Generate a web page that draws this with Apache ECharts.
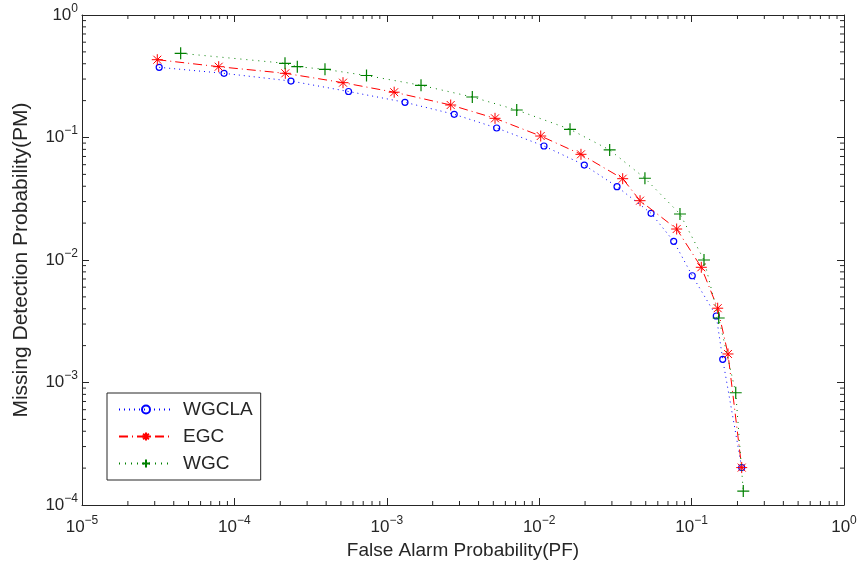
<!DOCTYPE html>
<html>
<head>
<meta charset="utf-8">
<script src="https://cdn.jsdelivr.net/npm/echarts@6/dist/echarts.min.js"></script>
<style>html,body{margin:0;padding:0;background:#fff;}#c{width:860px;height:568px;}</style>
</head>
<body>
<div id="c"></div>
<script>
// ---- data ----
const wgclaPF = [3.21e-5, 8.55e-5, 2.35e-4, 5.61e-4, 1.316e-3, 2.77e-3, 5.26e-3, 0.01075, 0.01977, 0.0324, 0.0542, 0.0763, 0.101, 0.1452, 0.160, 0.2132];
const wgclaPM = [0.374, 0.334, 0.289, 0.2374, 0.1938, 0.1546, 0.1196, 0.0852, 0.0596, 0.0397, 0.02405, 0.01421, 0.00744, 0.00349, 0.001547, 0.000202];
const egcPF = [3.12e-5, 7.89e-5, 2.158e-4, 5.16e-4, 1.118e-3, 2.626e-3, 5.13e-3, 0.01023, 0.0188, 0.0353, 0.0459, 0.0798, 0.1158, 0.1483, 0.1733, 0.2132];
const egcPM = [0.4316, 0.3784, 0.3342, 0.2802, 0.2343, 0.1842, 0.1434, 0.1028, 0.0729, 0.0461, 0.0305, 0.0179, 0.00872, 0.00404, 0.00171, 0.000202];
const wgcPF = [4.44e-5, 2.148e-4, 2.587e-4, 3.93e-4, 7.36e-4, 1.677e-3, 3.64e-3, 7.12e-3, 0.01593, 0.029, 0.0494, 0.0839, 0.1206, 0.1506, 0.1948, 0.2183];
const wgcPM = [0.4867, 0.4034, 0.3784, 0.3602, 0.3207, 0.2668, 0.2141, 0.1677, 0.1167, 0.0791, 0.0465, 0.02374, 0.01, 0.00336, 0.000825, 0.00013];
const seriesNames = ['WGCLA', 'EGC', 'WGC'];
const xMin = 1e-5, xMax = 1, yMin = 1e-4, yMax = 1;
const xTitle = 'False Alarm Probability(PF)';
const yTitle = 'Missing Detection Probability(PM)';

// ---- helpers ----
const FONT = '"Liberation Sans", Arial, Helvetica, sans-serif';
const TXT = '#262626';
const zip = (a, b) => a.map((v, i) => [v, b[i]]);
function minorVals(lo, hi) {
  const out = [];
  for (let e = Math.round(Math.log10(lo)); e < Math.round(Math.log10(hi)); e++) {
    for (let m = 2; m <= 9; m++) out.push(m * Math.pow(10, e));
  }
  return out;
}
const xMinor = minorVals(xMin, xMax).map(v => [v, yMin]);
const yMinor = minorVals(yMin, yMax).map(v => [xMin, v]);

const labelFmt = v => '{b|10}{s|' + String(Math.round(Math.log10(v))).replace('-', '\u2212') + '}';
const richLbl = {
  b: { fontSize: 17, fontFamily: FONT, color: TXT },
  s: { fontSize: 12, fontFamily: FONT, color: TXT, padding: [0, 0, 13, 0] }
};
const asterisk = 'path://M0,-5L0,5M-5,0L5,0M-3.6,-3.6L3.6,3.6M-3.6,3.6L3.6,-3.6';
const plus = 'path://M0,-5L0,5M-5,0L5,0';
const ring = 'path://M0,-5A5,5,0,1,1,0,5A5,5,0,1,1,0,-5Z';

function axisCommon(showLabel) {
  return {
    axisLine: { show: true, onZero: false, lineStyle: { color: TXT, width: 1 } },
    axisTick: { show: true, inside: true, length: 7, lineStyle: { color: TXT, width: 1 } },
    splitLine: { show: false },
    minorTick: { show: false },
    axisLabel: { show: showLabel, formatter: labelFmt, rich: richLbl }
  };
}

const chart = echarts.init(document.getElementById('c'), null, { renderer: 'canvas' });
const option = {
  animation: false,
  backgroundColor: '#fff',
  textStyle: { fontFamily: FONT, color: TXT },
  grid: { left: 82, right: 16, top: 15, bottom: 63, containLabel: false },
  xAxis: [
    Object.assign({ type: 'log', logBase: 10, min: xMin, max: xMax, position: 'bottom',
      name: xTitle, nameLocation: 'middle', nameGap: 35,
      nameTextStyle: { fontSize: 19, fontFamily: FONT, color: TXT } }, axisCommon(true),
      { axisLabel: { show: true, formatter: labelFmt, rich: richLbl, margin: 10 } }),
    Object.assign({ type: 'log', logBase: 10, min: xMin, max: xMax, position: 'top' }, axisCommon(false))
  ],
  yAxis: [
    Object.assign({ type: 'log', logBase: 10, min: yMin, max: yMax, position: 'left',
      name: yTitle, nameLocation: 'middle', nameGap: 50,
      nameTextStyle: { fontSize: 21, fontFamily: FONT, color: TXT } }, axisCommon(true),
      { axisLabel: { show: true, formatter: labelFmt, rich: richLbl, margin: 4 } }),
    Object.assign({ type: 'log', logBase: 10, min: yMin, max: yMax, position: 'right' }, axisCommon(false))
  ],
  legend: {
    data: seriesNames,
    orient: 'vertical',
    left: 107, top: 393,
    padding: [7, 8, 7, 11],
    itemGap: 8,
    itemWidth: 54, itemHeight: 10,
    backgroundColor: '#fff',
    borderColor: TXT, borderWidth: 1, borderRadius: 0,
    textStyle: { fontSize: 19, lineHeight: 19, fontFamily: FONT, color: TXT, padding: [0, 0, 0, 5] }
  },
  series: [
    {
      name: seriesNames[0], type: 'line', xAxisIndex: 0, yAxisIndex: 0,
      data: zip(wgclaPF, wgclaPM),
      symbol: ring, symbolSize: 6,
      lineStyle: { color: '#0000ff', width: 1, type: [1, 4] },
      itemStyle: { color: 'rgba(0,0,0,0)', borderColor: '#0000ff', borderWidth: 1.2 },
      z: 3
    },
    {
      name: seriesNames[1], type: 'line', xAxisIndex: 0, yAxisIndex: 0,
      data: zip(egcPF, egcPM),
      symbol: asterisk, symbolSize: 11,
      lineStyle: { color: '#ff0000', width: 1, type: [9, 4, 1, 4] },
      itemStyle: { color: 'rgba(0,0,0,0)', borderColor: '#ff0000', borderWidth: 1 },
      z: 4
    },
    {
      name: seriesNames[2], type: 'line', xAxisIndex: 0, yAxisIndex: 0,
      data: zip(wgcPF, wgcPM),
      symbol: plus, symbolSize: 12,
      lineStyle: { color: '#008000', width: 1, type: [1, 5] },
      itemStyle: { color: 'rgba(0,0,0,0)', borderColor: '#008000', borderWidth: 1.2 },
      z: 5
    },
    {
      type: 'custom', name: 'xminor', xAxisIndex: 0, yAxisIndex: 0, silent: true, z: 1,
      data: xMinor,
      renderItem: function (params, api) {
        const b = api.coord([api.value(0), yMin]);
        const t = api.coord([api.value(0), yMax]);
        return { type: 'group', children: [
          { type: 'line', shape: { x1: b[0], y1: b[1], x2: b[0], y2: b[1] - 4 }, style: { stroke: TXT, lineWidth: 1 } },
          { type: 'line', shape: { x1: t[0], y1: t[1], x2: t[0], y2: t[1] + 4 }, style: { stroke: TXT, lineWidth: 1 } }
        ] };
      }
    },
    {
      type: 'custom', name: 'yminor', xAxisIndex: 0, yAxisIndex: 0, silent: true, z: 1,
      data: yMinor,
      renderItem: function (params, api) {
        const l = api.coord([xMin, api.value(1)]);
        const r = api.coord([xMax, api.value(1)]);
        return { type: 'group', children: [
          { type: 'line', shape: { x1: l[0], y1: l[1], x2: l[0] + 4, y2: l[1] }, style: { stroke: TXT, lineWidth: 1 } },
          { type: 'line', shape: { x1: r[0], y1: r[1], x2: r[0] - 4, y2: r[1] }, style: { stroke: TXT, lineWidth: 1 } }
        ] };
      }
    }
  ]
};
chart.setOption(option);
</script>
</body>
</html>
